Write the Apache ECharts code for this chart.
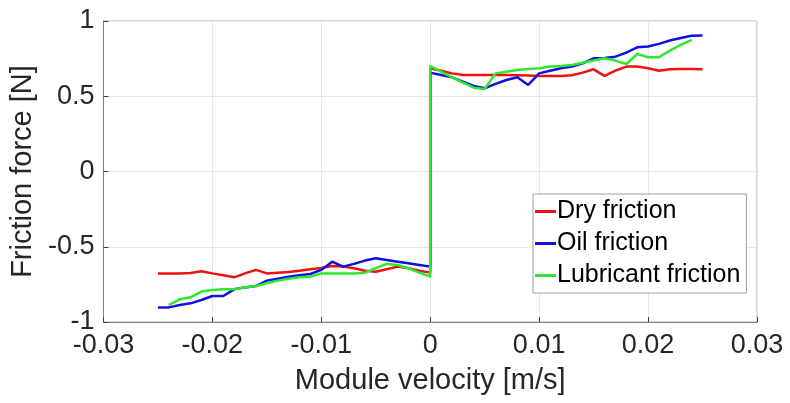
<!DOCTYPE html>
<html><head><meta charset="utf-8">
<script src="https://cdn.jsdelivr.net/npm/echarts@6/dist/echarts.min.js"></script>
<style>html,body{margin:0;padding:0;background:#fff}#c{width:790px;height:403px}</style>
</head><body><div id="c"></div>
<script>
const seriesNames = ['Dry friction', 'Oil friction', 'Lubricant friction'];
const xTicks = [-0.03, -0.02, -0.01, 0, 0.01, 0.02, 0.03];
const yTicks = [-1, -0.5, 0, 0.5, 1];
// negative-velocity side, v = -0.025 ... 0 step 0.001
const negV = [-0.025,-0.024,-0.023,-0.022,-0.021,-0.020,-0.019,-0.018,-0.017,-0.016,-0.015,-0.014,-0.013,-0.012,-0.011,-0.010,-0.009,-0.008,-0.007,-0.006,-0.005,-0.004,-0.003,-0.002,-0.001,0];
const posV = [0,0.001,0.002,0.003,0.004,0.005,0.006,0.007,0.008,0.009,0.010,0.011,0.012,0.013,0.014,0.015,0.016,0.017,0.018,0.019,0.020,0.021,0.022,0.023,0.024,0.025];
const dryNeg = [-0.677,-0.677,-0.677,-0.674,-0.663,-0.677,-0.690,-0.703,-0.677,-0.654,-0.677,-0.672,-0.668,-0.659,-0.650,-0.641,-0.628,-0.632,-0.643,-0.659,-0.666,-0.650,-0.632,-0.643,-0.659,-0.672];
const dryPos = [0.686,0.670,0.652,0.641,0.641,0.641,0.641,0.641,0.640,0.638,0.635,0.635,0.635,0.640,0.657,0.679,0.635,0.670,0.697,0.697,0.686,0.670,0.679,0.681,0.681,0.679];
const oilNeg = [-0.903,-0.903,-0.887,-0.876,-0.854,-0.827,-0.827,-0.783,-0.770,-0.761,-0.725,-0.712,-0.699,-0.690,-0.681,-0.654,-0.599,-0.632,-0.614,-0.592,-0.577,-0.588,-0.599,-0.610,-0.621,-0.632];
const oilPos = [0.657,0.641,0.626,0.597,0.568,0.553,0.582,0.608,0.626,0.575,0.652,0.670,0.686,0.697,0.719,0.752,0.754,0.763,0.790,0.825,0.830,0.848,0.870,0.887,0.902,0.903];
const lubNegV = [-0.024,-0.023,-0.022,-0.021,-0.020,-0.019,-0.018,-0.017,-0.016,-0.015,-0.014,-0.013,-0.012,-0.011,-0.010,-0.009,-0.008,-0.007,-0.006,-0.005,-0.004,-0.003,-0.002,-0.001,0];
const lubNeg = [-0.887,-0.849,-0.836,-0.798,-0.787,-0.783,-0.783,-0.770,-0.761,-0.743,-0.725,-0.712,-0.703,-0.699,-0.677,-0.677,-0.677,-0.677,-0.672,-0.643,-0.614,-0.621,-0.643,-0.672,-0.699];
const lubPosV = [0,0.001,0.002,0.003,0.004,0.005,0.006,0.007,0.008,0.009,0.010,0.011,0.012,0.013,0.014,0.015,0.016,0.017,0.018,0.019,0.020,0.021,0.022,0.023,0.024];
const lubPos = [0.701,0.663,0.626,0.590,0.557,0.548,0.652,0.663,0.674,0.681,0.686,0.697,0.701,0.708,0.723,0.737,0.752,0.737,0.714,0.781,0.759,0.759,0.803,0.841,0.874];

function pairs(xs, ys){ return xs.map((x,i)=>[x, ys[i]]); }
const dryData = pairs(negV, dryNeg).concat(pairs(posV, dryPos));
const oilData = pairs(negV, oilNeg).concat(pairs(posV, oilPos));
const lubData = pairs(lubNegV, lubNeg).concat(pairs(lubPosV, lubPos));

const colors = ['#f01010', '#1010e0', '#2ee82e'];
const font = 'Liberation Sans, Arial, sans-serif';
const chart = echarts.init(document.getElementById('c'), null, {renderer:'canvas'});
function fmt(v){ return String(Math.round(v*1000)/1000); }
chart.setOption({
  animation:false,
  backgroundColor:'#fff',
  grid:{left:103, right:33, top:21, bottom:81, show:true, borderColor:'#b0b0b0', borderWidth:1},
  legend:{
    orient:'vertical', left:533, top:194,
    padding:[5,6,5,2], itemGap:7,
    backgroundColor:'#fff', borderColor:'#a0a0a0', borderWidth:1,
    itemWidth:21, itemHeight:3, icon:'rect',
    textStyle:{fontFamily:font, fontSize:25, color:'#000', padding:[0,0,0,-4]},
    data:seriesNames
  },
  xAxis:{
    type:'value', min:-0.03, max:0.03, interval:0.01,
    name:'Module velocity [m/s]', nameLocation:'middle', nameGap:44,
    nameTextStyle:{fontFamily:font, fontSize:29, color:'#262626'},
    axisLine:{show:true, onZero:false, lineStyle:{color:'#808080'}},
    axisTick:{show:true, inside:true, length:5, lineStyle:{color:'#404040'}},
    axisLabel:{fontFamily:font, fontSize:27, color:'#262626', margin:10, formatter:fmt},
    splitLine:{show:true, lineStyle:{color:'#e6e6e6'}}
  },
  yAxis:{
    type:'value', min:-1, max:1, interval:0.5,
    name:'Friction force [N]', nameLocation:'middle', nameGap:58,
    nameTextStyle:{fontFamily:font, fontSize:29, color:'#262626'},
    axisLine:{show:true, onZero:false, lineStyle:{color:'#808080'}},
    axisTick:{show:true, inside:true, length:5, lineStyle:{color:'#404040'}},
    axisLabel:{fontFamily:font, fontSize:27, color:'#262626', margin:9, formatter:fmt},
    splitLine:{show:true, lineStyle:{color:'#e6e6e6'}}
  },
  series:[
    {name:seriesNames[0], type:'line', data:dryData, symbol:'none', lineStyle:{color:colors[0], width:2.5}, itemStyle:{color:colors[0]}},
    {name:seriesNames[1], type:'line', data:oilData, symbol:'none', lineStyle:{color:colors[1], width:2.5}, itemStyle:{color:colors[1]}},
    {name:seriesNames[2], type:'line', data:lubData, symbol:'none', lineStyle:{color:colors[2], width:2.5}, itemStyle:{color:colors[2]}}
  ]
});
</script></body></html>
